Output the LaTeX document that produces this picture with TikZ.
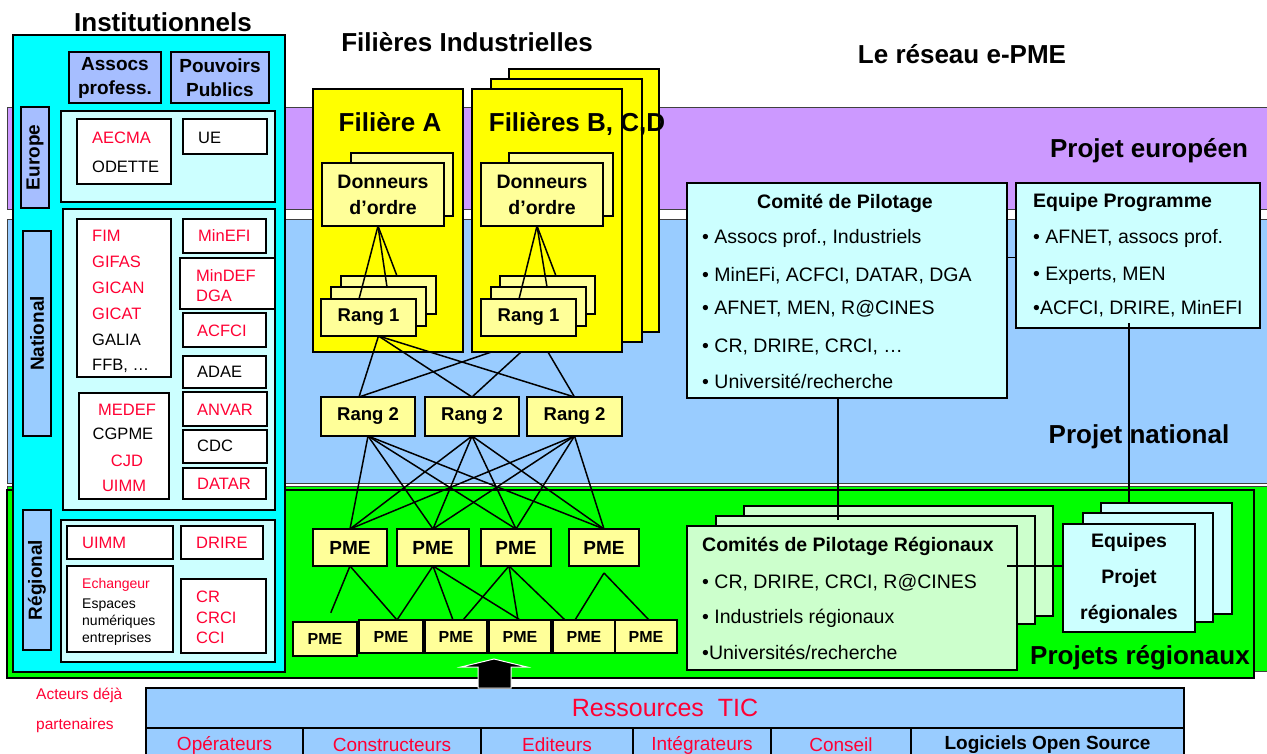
\documentclass[tikz,border=0pt]{standalone}
\usepackage{fontspec}
\setmainfont{Liberation Sans}
\usetikzlibrary{calc}
\definecolor{cpurple}{HTML}{CC99FF}
\definecolor{cblue}{HTML}{99CCFF}
\definecolor{cgreen}{HTML}{00FF00}
\definecolor{ccyan}{HTML}{00FFFF}
\definecolor{clcyan}{HTML}{CCFFFF}
\definecolor{cperi}{HTML}{A6BEFF}
\definecolor{cyel}{HTML}{FFFF00}
\definecolor{clyel}{HTML}{FFFF99}
\definecolor{clgreen}{HTML}{CCFFCC}
\definecolor{cred}{HTML}{FF0033}
\pgfdeclarelayer{bandlayer}
\pgfdeclarelayer{behind}
\pgfsetlayers{bandlayer,behind,main}
\tikzset{
 bx/.style={draw=black, line width=1.6pt},
 band/.style={draw=black!75, line width=0.8pt},
 conn/.style={draw=black, line width=1.5pt},
 fT/.style={font=\fontsize{26}{30}\selectfont\bfseries, inner sep=0pt},
 fB/.style={font=\fontsize{19}{24}\selectfont\bfseries, align=center},
 fD/.style={font=\fontsize{19.5}{26}\selectfont\bfseries, align=center},
 fRg/.style={font=\fontsize{18.5}{22}\selectfont\bfseries},
 fP/.style={font=\fontsize{19}{22}\selectfont\bfseries},
 fPs/.style={font=\fontsize{16}{20}\selectfont\bfseries},
 fN/.style={font=\fontsize{19.5}{24}\selectfont, inner sep=0pt, anchor=west},
 fNB/.style={font=\fontsize{19.5}{24}\selectfont\bfseries, inner sep=0pt},
 fS/.style={font=\fontsize{16.5}{20}\selectfont, inner sep=0pt, anchor=west},
 fXS/.style={font=\fontsize{14}{17}\selectfont, inner sep=0pt, anchor=west},
 fE/.style={font=\fontsize{19.5}{36}\selectfont\bfseries, align=center},
 fRes/.style={font=\fontsize{25}{30}\selectfont, text=cred},
 fCol/.style={font=\fontsize{19}{22}\selectfont, text=cred},
 fAct/.style={font=\fontsize{15.5}{19}\selectfont, text=cred, inner sep=0pt, anchor=west},
 rt/.style={text=cred},
}
\newcommand\rbox[6]{\node[inner sep=0pt,outer sep=0pt,#1,minimum width={(#5)-(#3)},minimum height={(#6)-(#4)}] (#2) at ({((#3)+(#5))/2},{((#4)+(#6))/2}) {};}
\newcommand\tbox[7]{\node[inner sep=0pt,outer sep=0pt,#1,minimum width={(#5)-(#3)},minimum height={(#6)-(#4)}] (#2) at ({((#3)+(#5))/2},{((#4)+(#6))/2}) {#7};}
\begin{document}
\begin{tikzpicture}[x=1pt,y=-1pt]
\useasboundingbox (0,0) rectangle (1267,754);
% ---------- bands ----------
\begin{pgfonlayer}{bandlayer}
\fill[white] (0,0) rectangle (1267,754);
\rbox{band,fill=cpurple}{bpur}{7}{107}{1268}{209}
\rbox{band,fill=cblue}{bblu}{7}{219}{1268}{483}
\rbox{band,fill=cgreen}{bgrb}{7}{486}{1268}{671}
\rbox{bx,fill=cgreen}{bgrf}{7}{490}{1254}{678}
\end{pgfonlayer}
% ---------- titles ----------
\node[fT] (tinst) at (163,22) {Institutionnels};
\node[fT] (tfil) at (467,42) {Filières Industrielles};
\node[fT] (tres) at (962,54) {Le réseau e-PME};
% ---------- Institutionnels ----------
\rbox{bx,fill=ccyan}{inst}{13}{35}{285}{672}
\tbox{bx,fill=cperi,fB}{assoc}{69}{52}{161}{103}{Assocs\\profess.}
\tbox{bx,fill=cperi,fB}{pouv}{171}{52}{269}{103}{Pouvoirs\\Publics}
% Europe
\rbox{bx,fill=cperi}{eulab}{21}{107}{49}{208}
\node[fB,rotate=90] (eut) at (eulab) {Europe};
\rbox{bx,fill=clcyan}{eupan}{61}{111}{275}{202}
\rbox{bx,fill=white}{aecma}{77}{119}{171}{184}
\node[fS,rt] (taecma) at (92,138) {AECMA};
\node[fS] (todette) at (92,167) {ODETTE};
\rbox{bx,fill=white}{ue}{183}{119}{267}{154}
\node[fS] (tue) at (198,138) {UE};
% National
\rbox{bx,fill=cblue}{natlab}{23}{231}{51}{436}
\node[fB,rotate=90] (natt) at (natlab) {National};
\rbox{bx,fill=clcyan}{natpan}{63}{209}{275}{510}
\rbox{bx,fill=white}{fim}{77}{219}{171}{377}
\node[fS,rt] (tfim) at (92,236) {FIM};
\node[fS,rt] (tgifas) at (92,262) {GIFAS};
\node[fS,rt] (tgican) at (92,288) {GICAN};
\node[fS,rt] (tgicat) at (92,314) {GICAT};
\node[fS] (tgalia) at (92,340) {GALIA};
\node[fS] (tffb) at (92,366) {FFB, …};
\rbox{bx,fill=white}{minefi}{183}{219}{266}{253}
\node[fS,rt] (tminefi) at (198,236) {MinEFI};
\rbox{bx,fill=white}{mindef}{180}{258}{275}{309}
\node[fS,rt] (tmindef) at (196,276) {MinDEF};
\node[fS,rt] (tdga) at (196,296) {DGA};
\rbox{bx,fill=white}{acfci}{183}{313}{266}{347}
\node[fS,rt] (tacfci) at (197,331) {ACFCI};
\rbox{bx,fill=white}{adae}{183}{356}{266}{388}
\node[fS] (tadae) at (197,372) {ADAE};
\rbox{bx,fill=white}{medef}{79}{393}{169}{499}
\node[fS,rt,anchor=center] (tmedef) at (127,410) {MEDEF};
\node[fS,anchor=center] (tcgpme) at (123,434) {CGPME};
\node[fS,rt,anchor=center] (tcjd) at (127,461) {CJD};
\node[fS,rt,anchor=center] (tuimmn) at (124,486) {UIMM};
\rbox{bx,fill=white}{anvar}{183}{392}{267}{426}
\node[fS,rt] (tanvar) at (197,410) {ANVAR};
\rbox{bx,fill=white}{cdc}{183}{430}{267}{463}
\node[fS] (tcdc) at (197,446) {CDC};
\rbox{bx,fill=white}{datar}{183}{468}{266}{499}
\node[fS,rt] (tdatar) at (197,484) {DATAR};
% Regional
\rbox{bx,fill=cblue}{reglab}{23}{510}{51}{650}
\node[fB,rotate=90] (regt) at (reglab) {Régional};
\rbox{bx,fill=clcyan}{regpan}{61}{520}{275}{662}
\rbox{bx,fill=white}{uimm}{67}{526}{173}{559}
\node[fS,rt] (tuimm) at (82,543) {UIMM};
\rbox{bx,fill=white}{drire}{181}{526}{263}{559}
\node[fS,rt] (tdrire) at (196,543) {DRIRE};
\rbox{bx,fill=white}{ech}{67}{566}{173}{652}
\node[fXS,rt] (tech) at (82,585) {Echangeur};
\node[fXS] (tesp) at (82,605) {Espaces};
\node[fXS] (tnum) at (82,622) {numériques};
\node[fXS] (tent) at (82,639) {entreprises};
\rbox{bx,fill=white}{crb}{181}{579}{266}{653}
\node[fS,rt] (tcr) at (196,597) {CR};
\node[fS,rt] (tcrci) at (196,618) {CRCI};
\node[fS,rt] (tcci) at (196,638) {CCI};
% ---------- Filieres ----------
\rbox{bx,fill=cyel}{fb3}{509}{69}{659}{332}
\rbox{bx,fill=cyel}{fb2}{491}{79}{642}{342}
\rbox{bx,fill=cyel}{fb1}{472}{89}{622}{352}
\rbox{bx,fill=cyel}{fa}{313}{89}{463}{352}
\node[fT] (tfa) at (390,122) {Filière A};
\node[fT] (tfb) at (577,124) {Filières B, C,D};
\rbox{bx,fill=clyel}{dab}{351}{153}{453}{216}
\tbox{bx,fill=clyel,fD}{daf}{322}{163}{444}{226}{Donneurs\\d’ordre}
\rbox{bx,fill=clyel}{dbb}{509}{153}{613}{216}
\tbox{bx,fill=clyel,fD}{dbf}{481}{163}{603}{226}{Donneurs\\d’ordre}
\rbox{bx,fill=clyel}{ra3}{341}{276}{436}{314}
\rbox{bx,fill=clyel}{ra2}{331}{287}{426}{326}
\tbox{bx,fill=clyel,fRg}{ra1}{321}{299}{416}{336}{Rang 1}
\rbox{bx,fill=clyel}{rb3}{500}{276}{595}{314}
\rbox{bx,fill=clyel}{rb2}{491}{287}{586}{326}
\tbox{bx,fill=clyel,fRg}{rb1}{481}{299}{576}{336}{Rang 1}
\draw[conn] ([xshift=-5pt]daf.south) -- ([xshift=-9.5pt]ra1.north);
\draw[conn] ([xshift=-5pt]daf.south) -- ([xshift=8.5pt]ra2.north);
\draw[conn] ([xshift=-5pt]daf.south) -- ([xshift=8.5pt]ra3.north);
\draw[conn] ([xshift=-5pt]dbf.south) -- ([xshift=-9.5pt]rb1.north);
\draw[conn] ([xshift=-5pt]dbf.south) -- ([xshift=8.5pt]rb2.north);
\draw[conn] ([xshift=-5pt]dbf.south) -- ([xshift=8.5pt]rb3.north);
% Rang 2
\tbox{bx,fill=clyel,fRg}{r2a}{321}{397}{415}{436}{Rang 2}
\tbox{bx,fill=clyel,fRg}{r2b}{425}{397}{519}{436}{Rang 2}
\tbox{bx,fill=clyel,fRg}{r2c}{527}{397}{622}{436}{Rang 2}
\foreach \t/\s in {r2a/-9pt,r2b/0pt,r2c/0pt}{
  \draw[conn] ([xshift=10pt]ra1.south) -- ([xshift=\s]\t.north);
}
\begin{pgfonlayer}{behind}
\foreach \t/\s in {r2a/-9pt,r2b/0pt,r2c/0pt}{
  \draw[conn] ([xshift=10pt]rb1.south) -- ([xshift=\s]\t.north);
}
\end{pgfonlayer}
% PME row 1
\tbox{bx,fill=clyel,fP}{p1}{313}{529}{387}{566}{PME}
\tbox{bx,fill=clyel,fP}{p2}{397}{529}{469}{566}{PME}
\tbox{bx,fill=clyel,fP}{p3}{481}{529}{551}{566}{PME}
\tbox{bx,fill=clyel,fP}{p4}{569}{529}{639}{566}{PME}
\foreach \a in {r2a,r2b,r2c}{
  \foreach \b in {p1,p2,p3,p4}{
    \draw[conn] (\a.south) -- (\b.north);
  }
}
% PME row 2
\tbox{bx,fill=clyel,fPs}{q1}{293}{622}{357}{656}{PME}
\tbox{bx,fill=clyel,fPs}{q2}{359}{620}{423}{653}{PME}
\tbox{bx,fill=clyel,fPs}{q3}{425}{620}{487}{653}{PME}
\tbox{bx,fill=clyel,fPs}{q4}{489}{620}{551}{653}{PME}
\tbox{bx,fill=clyel,fPs}{q5}{553}{620}{615}{653}{PME}
\tbox{bx,fill=clyel,fPs}{q6}{615}{620}{677}{653}{PME}
\draw[conn,shorten >=10pt] (p1.south) -- ([xshift=2pt]q1.north);
\draw[conn] (p1.south) -- ([xshift=6pt]q2.north);
\draw[conn] (p2.south) -- ([xshift=6pt]q2.north);
\draw[conn] (p2.south) -- ([xshift=-3pt]q3.north);
\draw[conn] (p2.south) -- (q4.north);
\draw[conn] ([xshift=-7pt]p3.south) -- ([xshift=7pt]q3.north);
\draw[conn] ([xshift=-7pt]p3.south) -- ([xshift=-2pt]q4.north);
\draw[conn] ([xshift=-7pt]p3.south) -- ([xshift=-19pt]q5.north);
\draw[conn] ([yshift=-7pt]p4.south) -- ([xshift=-9pt]q5.north);
\draw[conn] ([yshift=-7pt]p4.south) -- ([xshift=3pt]q6.north);
% ---------- e-PME network ----------
\rbox{bx,fill=clcyan}{comite}{687}{183}{1007}{398}
\node[fNB] (tcom) at (845,203) {Comité de Pilotage};
\node[fN] (c1) at (702,238) {• Assocs prof., Industriels};
\node[fN] (c2) at (702,276) {• MinEFi, ACFCI, DATAR, DGA};
\node[fN] (c3) at (702,309) {• AFNET, MEN, R@CINES};
\node[fN] (c4) at (702,347) {• CR, DRIRE, CRCI, …};
\node[fN] (c5) at (702,381) {• Université/recherche};
\rbox{bx,fill=clcyan}{equipe}{1016}{183}{1260}{328}
\node[fNB,anchor=west] (teq) at (1033,203) {Equipe Programme};
\node[fN] (e1) at (1033,238) {• AFNET, assocs prof.};
\node[fN] (e2) at (1033,276) {• Experts, MEN};
\node[fN] (e3) at (1033,309) {•ACFCI, DRIRE, MinEFI};
\draw[conn] ([yshift=33pt]comite.east) -- ([yshift=33pt]comite.east -| equipe.west);
% regional committees
\rbox{bx,fill=clgreen}{crg3}{744}{506}{1053}{616}
\rbox{bx,fill=clgreen}{crg2}{716}{516}{1035}{624}
\rbox{bx,fill=clgreen}{crg1}{687}{526}{1017}{670}
\node[fNB,anchor=west] (tcrg) at (702,546) {Comités de Pilotage Régionaux};
\node[fN] (g1) at (702,583) {• CR, DRIRE, CRCI, R@CINES};
\node[fN] (g2) at (702,618) {• Industriels régionaux};
\node[fN] (g3) at (702,652) {•Universités/recherche};
\rbox{bx,fill=clcyan}{eq3}{1101}{503}{1232}{614}
\rbox{bx,fill=clcyan}{eq2}{1083}{513}{1213}{622}
\tbox{bx,fill=clcyan,fE}{eq1}{1063}{524}{1195}{632}{Equipes\\Projet\\régionales}
\draw[conn] ([xshift=-10pt,yshift=32pt]crg1.east) -- ([yshift=32pt]crg1.east -| eq1.west);
% band titles
\node[fT] (tpe) at (1149,151) {Projet européen};
\node[fT] (tpn) at (1139,437) {Projet national};
\node[fT] (tpr) at (1140,658) {Projets régionaux};
\draw[conn,shorten >=6pt] ([xshift=-9pt]comite.south) -- ([xshift=-9pt]comite.south |- crg1.north);
\draw[conn] ([xshift=-9pt,yshift=5pt]equipe.south) -- ([xshift=-9pt]equipe.south |- eq3.north);
% ---------- resources ----------
\node[fAct] (act1) at (36,695) {Acteurs déjà};
\node[fAct] (act2) at (36,725) {partenaires};
\tbox{bx,fill=cblue,fRes}{res}{146}{688}{1184}{728}{Ressources\ \ TIC}
\tbox{bx,fill=cblue,fCol}{k1}{146}{728}{303}{762}{Opérateurs}
\tbox{bx,fill=cblue,fCol}{k2}{303}{728}{481}{762}{Constructeurs}
\tbox{bx,fill=cblue,fCol}{k3}{481}{728}{633}{762}{Editeurs}
\tbox{bx,fill=cblue,fCol}{k4}{633}{728}{771}{762}{Intégrateurs}
\tbox{bx,fill=cblue,fCol}{k5}{771}{728}{911}{762}{Conseil}
\tbox{bx,fill=cblue,font=\fontsize{19}{22}\selectfont\bfseries}{k6}{911}{728}{1184}{762}{Logiciels Open Source}
\fill[black, draw=white, line width=1pt] (478,688) -- (478,667) -- (461,667) -- (494,659) -- (527,667) -- (511,667) -- (511,688) -- cycle;
\end{tikzpicture}
\end{document}
